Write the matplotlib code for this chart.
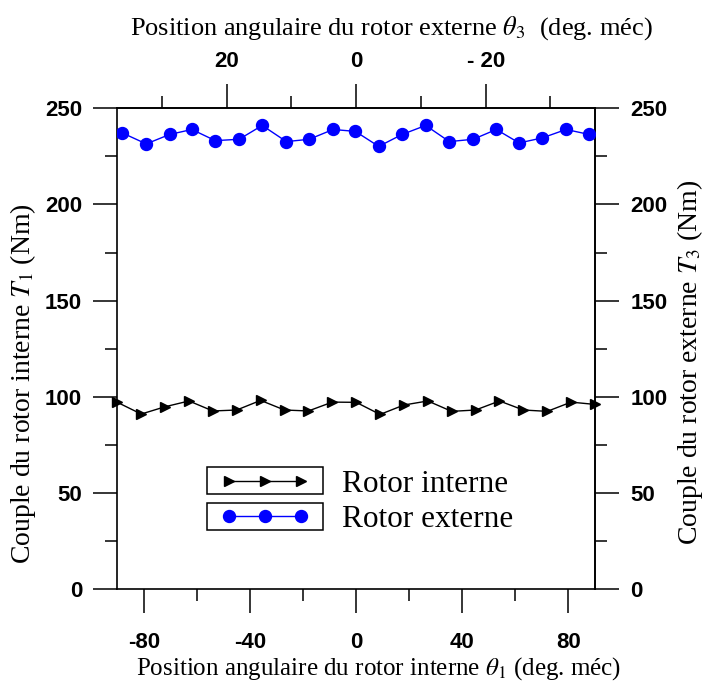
import matplotlib
matplotlib.use('Agg')
import matplotlib.pyplot as plt
from matplotlib.patches import Rectangle
from matplotlib.ticker import FixedLocator, MultipleLocator

# Rotor interne (axe du bas, theta_1)
theta_int = [-90, -81, -72, -63, -54, -45, -36, -27, -18, -9, 0,
             9, 18, 27, 36, 45, 54, 63, 72, 81, 90]
couple_int = [97.1, 91.0, 94.8, 97.8, 92.6, 93.1, 98.1, 93.1, 92.6, 97.2, 97.1,
              90.8, 95.7, 97.8, 92.4, 93.1, 97.8, 93.1, 92.4, 97.2, 96.0]

# Rotor externe
theta_ext = [-88.1, -79.1, -70.3, -61.9, -53.1, -44.1, -35.4, -26.3, -17.7, -8.7, -0.3,
             8.5, 17.3, 26.2, 35.1, 44.1, 52.8, 61.4, 70.1, 79.1, 87.8]
couple_ext = [237.2, 231.5, 236.4, 239.0, 233.2, 233.9, 241.1, 232.7, 233.9, 239.0, 238.0,
              230.2, 236.4, 241.1, 232.7, 233.9, 239.0, 232.0, 234.6, 239.0, 236.4]

bottom_ticks = [-80, -40, 0, 40, 80]
bottom_labels = ['-80', '-40', '0', '40', '80']
top_ticks = [20, 0, -20]
top_labels = ['20', '0', '- 20']
top_minor = [30, 10, -10, -30]
y_ticks = [0, 50, 100, 150, 200, 250]
ratio = 0.41  # theta_3 = -ratio * theta_1

plt.rcParams['mathtext.fontset'] = 'stix'
plt.rcParams['font.family'] = 'Liberation Serif'

serif = dict(family='Liberation Serif')
tickfont = dict(family='Liberation Sans', weight='bold', size=16)

fig = plt.figure(figsize=(7.05, 6.83), dpi=100)
ax = fig.add_axes([0.1664, 0.1376, 0.6776, 0.7038])

ax.plot(theta_int, couple_int, color='black', lw=1, marker='>', ms=7,
        label='Rotor interne', clip_on=False, zorder=3)
ax.plot(theta_ext, couple_ext, color='#0000ff', lw=1, marker='o', ms=8.6,
        label='Rotor externe', zorder=3)

ax.set_xlim(-90, 90)
ax.set_ylim(0, 250)
ax.set_xticks(bottom_ticks, labels=bottom_labels, **tickfont)
ax.xaxis.set_minor_locator(MultipleLocator(20))
ax.set_yticks(y_ticks, labels=[str(v) for v in y_ticks], **tickfont)
ax.yaxis.set_minor_locator(MultipleLocator(25))

for s in ax.spines.values():
    s.set_linewidth(1.2)

ax.tick_params(axis='x', which='major', length=17.3, width=1.1, pad=14)
ax.tick_params(axis='x', which='minor', length=8.8, width=1.1)
ax.tick_params(axis='y', which='major', length=17.3, width=1.1, pad=8)
ax.tick_params(axis='y', which='minor', length=8.8, width=1.1)

# axe de droite (T3)
secr = ax.secondary_yaxis('right')
secr.set_yticks(y_ticks, labels=[str(v) for v in y_ticks], **tickfont)
secr.yaxis.set_minor_locator(MultipleLocator(25))
secr.tick_params(which='major', length=17.3, width=1.1, pad=8)
secr.tick_params(which='minor', length=8.8, width=1.1)
secr.spines['right'].set_linewidth(1.2)

# axe du haut (theta_3)
sect = ax.secondary_xaxis('top', functions=(lambda x: -ratio * x, lambda x: -x / ratio))
sect.set_xticks(top_ticks, labels=top_labels, **tickfont)
sect.xaxis.set_minor_locator(FixedLocator(top_minor))
sect.tick_params(which='major', length=17.3, width=1.1, pad=9)
sect.tick_params(which='minor', length=8.8, width=1.1)
sect.spines['top'].set_linewidth(1.2)

ax.set_xlabel(r'Position angulaire du rotor interne $\theta_{\mathit{1}}$ (deg. méc)',
              fontsize=18, **serif)
ax.xaxis.set_label_coords(0.546, -0.137)
sect.set_xlabel(r'Position angulaire du rotor externe $\theta_{\mathit{3}}$  (deg. méc)',
                fontsize=19, **serif)
sect.xaxis.set_label_coords(0.573, 1.153, transform=ax.transAxes)
ax.set_ylabel(r'Couple du rotor interne $T_{\mathit{1}}$ (Nm)', fontsize=20, **serif)
ax.yaxis.set_label_coords(-0.166, 0.4275)
secr.set_ylabel(r'Couple du rotor externe $T_{\mathit{3}}$ (Nm)', fontsize=20, **serif)
secr.yaxis.set_label_coords(1.168, 0.472, transform=ax.transAxes)

leg = ax.legend(loc='upper left', bbox_to_anchor=(0.215, 0.248), frameon=False,
                numpoints=3, handlelength=2.9, handletextpad=1.0, labelspacing=0.2,
                borderpad=0, borderaxespad=0,
                prop=dict(family='Liberation Serif', size=22.5))

# cadre autour de chaque symbole de la légende
fig.canvas.draw()
renderer = fig.canvas.get_renderer()
inv = fig.transFigure.inverted()
for h in leg.legend_handles:
    bb = h.get_window_extent(renderer)
    cx, cy = (bb.x0 + bb.x1) / 2, (bb.y0 + bb.y1) / 2
    (x0, y0) = inv.transform((cx - 58, cy - 13.5))
    (x1, y1) = inv.transform((cx + 58, cy + 13.5))
    fig.add_artist(Rectangle((x0, y0), x1 - x0, y1 - y0, fill=False,
                             edgecolor='black', lw=1.1, transform=fig.transFigure))

fig.savefig('out.png', dpi=100)
